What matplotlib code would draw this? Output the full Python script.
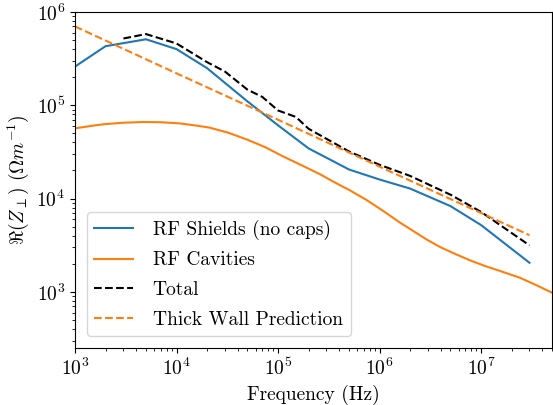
import numpy as np
import matplotlib
matplotlib.use("Agg")
import matplotlib.pyplot as plt

plt.rcParams["font.family"] = "serif"
plt.rcParams["font.serif"] = ["cmr10"]
plt.rcParams["mathtext.fontset"] = "cm"
plt.rcParams["axes.formatter.use_mathtext"] = True
plt.rcParams["font.size"] = 14

# RF shields (no caps)
shield_f = [1e3, 2e3, 5e3, 1e4, 2e4, 5e4, 1e5, 2e5, 5e5, 1e6, 2e6, 5e6, 1e7, 3e7]
shield_z = [2.6e5, 4.3e5, 5.1e5, 4.0e5, 2.5e5, 1.1e5, 6.1e4, 3.45e4, 2.05e4, 1.6e4, 1.28e4, 8.3e3, 5.2e3, 2.05e3]

# RF cavities
cav_f = [1e3, 1.4e3, 1.9e3, 3e3, 4.7e3, 7e3, 1.07e4, 1.5e4, 2.1e4, 3.2e4, 4.9e4,
         7.5e4, 1.1e5, 1.7e5, 2.6e5, 3.5e5, 5e5, 7.4e5, 1.1e6, 1.6e6, 2.9e6,
         4e6, 5.7e6, 8e6, 1.1e7, 1.6e7, 2.4e7, 3.5e7, 5e7]
cav_z = [5.66e4, 5.98e4, 6.26e4, 6.5e4, 6.62e4, 6.58e4, 6.4e4, 6.1e4, 5.77e4, 5.1e4, 4.31e4,
         3.55e4, 2.86e4, 2.28e4, 1.82e4, 1.52e4, 1.24e4, 9.7e3, 7.3e3, 5.5e3, 3.65e3,
         3.0e3, 2.52e3, 2.15e3, 1.89e3, 1.65e3, 1.42e3, 1.18e3, 9.8e2]

# total
tot_f = [3e3, 5e3, 1e4, 2e4, 3e4, 5e4, 7e4, 1e5, 1.5e5, 2e5, 5e5, 1e6, 2e6, 5e6, 1e7, 3e7]
tot_z = [5.2e5, 5.8e5, 4.6e5, 2.9e5, 2.3e5, 1.47e5, 1.23e5, 8.8e4, 7.5e4, 5.6e4, 3.2e4, 2.3e4, 1.75e4, 1.1e4, 7.2e3, 3.15e3]

# thick wall prediction
tw_f = [1e3, 1e4, 1e5, 1e6, 1e7, 3e7]
tw_z = [7.0e5, 2.2e5, 7.0e4, 2.2e4, 7.0e3, 4.05e3]

fig = plt.figure(figsize=(5.53, 4.05), dpi=100)
ax = fig.add_axes([75/553, 1-348/405, 477/553, 336/405])
ax.loglog(shield_f, shield_z, color="#1f77b4", label="RF Shields (no caps)")
ax.loglog(cav_f, cav_z, color="#ff7f0e", label="RF Cavities")
ax.loglog(tot_f, tot_z, "k--", label="Total")
ax.loglog(tw_f, tw_z, "--", color="#ff7f0e", label="Thick Wall Prediction")
ax.set_xlim(1e3, 5e7)
ax.set_ylim(2.5e2, 1e6)
ax.set_xlabel("Frequency (Hz)")
ax.set_ylabel(r"$\Re(Z_\perp)$ $(\Omega m^{-1})$")
ax.legend(loc="lower left", labelspacing=0.6, handletextpad=1.0,
          borderpad=0.4, borderaxespad=0.6)
fig.savefig("out.png", dpi=100)
